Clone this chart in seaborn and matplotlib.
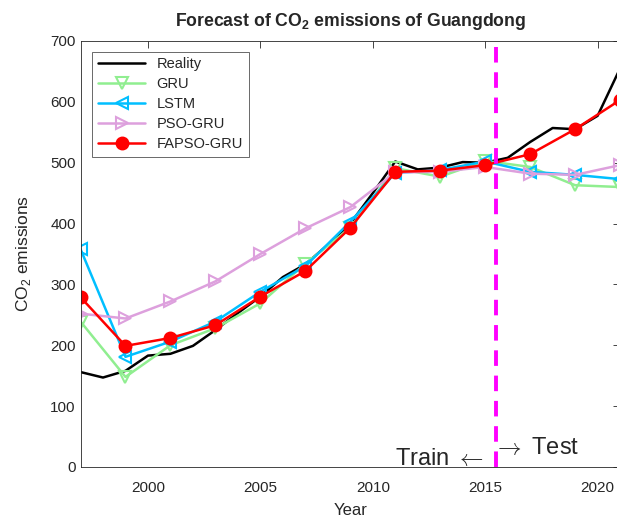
import numpy as np
import pandas as pd
import matplotlib
matplotlib.use("Agg")
import matplotlib.pyplot as plt
import seaborn as sns

# yearly observed emissions
years_real = list(range(1997, 2022))
reality = [156, 147, 158, 183, 186, 199, 225, 253, 280, 312, 333, 365, 400, 450, 502,
           489, 492, 501, 500, 508, 534, 557, 555, 577, 655]

# model forecasts every other year
years_model = list(range(1997, 2022, 2))
gru = [239, 148, 200, 228, 269, 334, 393, 491, 477, 503, 493, 463, 460]
lstm = [358, 181, 206, 239, 288, 330, 403, 483, 488, 502, 485, 480, 473]
pso_gru = [252, 244, 272, 305, 350, 392, 427, 484, 485, 493, 482, 480, 496]
fapso_gru = [279, 199, 212, 233, 280, 322, 393, 485, 487, 496, 514, 555, 603]

split_year = 2015.5

sns.set_style("white")
plt.rcParams['font.family'] = ['Liberation Sans', 'DejaVu Sans']
plt.rcParams['mathtext.fontset'] = 'custom'
plt.rcParams['mathtext.rm'] = 'Liberation Sans'
plt.rcParams['mathtext.bf'] = 'Liberation Sans:bold'

fig = plt.figure(figsize=(6.17, 5.24), dpi=100)
ax = fig.add_axes([0.1305, 0.1088, 0.8745, 0.813])

sns.lineplot(x=years_real, y=reality, ax=ax, color='black', linewidth=1.8, label='Reality')

series = [
    ('GRU', gru, '#90EE90', 'v', 'none'),
    ('LSTM', lstm, '#00BFFF', '<', 'none'),
    ('PSO-GRU', pso_gru, '#DDA0DD', '>', 'none'),
    ('FAPSO-GRU', fapso_gru, '#FF0000', 'o', '#FF0000'),
]
for name, vals, col, mk, fc in series:
    sns.lineplot(x=years_model, y=vals, ax=ax, color=col, linewidth=1.8, label=name,
                 marker=mk, markersize=8.5, markerfacecolor=fc, markeredgecolor=col,
                 markeredgewidth=1.5)

ax.axvline(split_year, color='#FF00FF', linestyle=(0, (4, 2.5)), linewidth=2.8)

ax.text(2014.95, 3, r'Train $\leftarrow$', ha='right', va='baseline', fontsize=17,
        math_fontfamily='cm')
ax.text(2015.35, 22, r'$\rightarrow$ Test', ha='left', va='baseline', fontsize=17,
        math_fontfamily='cm')

ax.set_xlim(1997, 2021)
ax.set_ylim(0, 700)
ax.set_xticks([2000, 2005, 2010, 2015, 2020])
ax.set_yticks(range(0, 701, 100))
ax.tick_params(direction='in', top=True, right=True, labelsize=11, colors='#262626',
               length=5, width=0.6)
ax.tick_params(axis='x', pad=10)
for sp in ax.spines.values():
    sp.set_visible(True)
    sp.set_color('#262626')
    sp.set_linewidth(0.6)

ax.set_xlabel('Year', fontsize=12, color='#262626', labelpad=6)
ax.set_ylabel(r'CO$_2$ emissions', fontsize=12.5, color='#262626', labelpad=12)
ax.set_title(r'Forecast of CO$_\mathbf{2}$ emissions of Guangdong', fontsize=12.7,
             fontweight='bold', pad=11)

leg = ax.legend(loc='upper left', bbox_to_anchor=(0.022, 0.975), fontsize=10.5,
                frameon=True, fancybox=False, edgecolor='#262626', handlelength=3.2,
                borderaxespad=0, labelspacing=0.4, borderpad=0.4)
leg.get_frame().set_linewidth(0.6)

fig.savefig('out.png', dpi=100)
